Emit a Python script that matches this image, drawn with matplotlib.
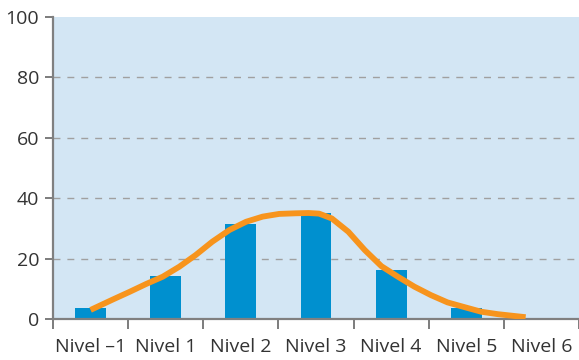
import matplotlib.pyplot as plt
from matplotlib import font_manager

categories = ["Nivel \u20131", "Nivel 1", "Nivel 2", "Nivel 3", "Nivel 4", "Nivel 5", "Nivel 6"]
bar_values = [3.7, 14.2, 31.5, 35.1, 16.2, 3.6, 0.0]

# points (x in category units)
curve_x = [0.0, 0.30, 0.52, 0.74, 0.96, 1.18, 1.40, 1.62, 1.85, 2.07, 2.29, 2.51,
           2.73, 2.90, 3.04, 3.21, 3.43, 3.65, 3.87, 4.09, 4.31, 4.53, 4.75, 4.98,
           5.20, 5.42, 5.64, 5.79]
curve_y = [3.0, 6.5, 9.0, 11.6, 14.0, 17.3, 21.2, 25.6, 29.5, 32.2, 33.9, 34.8,
           35.0, 35.1, 34.9, 33.3, 28.9, 22.8, 17.5, 14.0, 10.7, 7.9, 5.5, 3.9,
           2.4, 1.6, 1.0, 0.6]

y_ticks = [0, 20, 40, 60, 80, 100]

names = {f.name for f in font_manager.fontManager.ttflist}
fam = "Liberation Sans Narrow" if "Liberation Sans Narrow" in names else "Open Sans"
plt.rcParams["font.family"] = [fam, "DejaVu Sans"]

fig = plt.figure(figsize=(5.79, 3.6), dpi=100)
ax = fig.add_axes([53 / 579, 1 - 319 / 360, 1 - 53 / 579, (319 - 17) / 360])
ax.set_facecolor("#d3e6f4")

xs = list(range(len(categories)))
ax.bar(xs, bar_values, width=0.41, color="#0090cf", zorder=2)
ax.plot(curve_x, curve_y, color="#f7941d", linewidth=4.2, solid_capstyle="butt",
        solid_joinstyle="round", zorder=3)

ax.set_xlim(-0.5, 6.46)
ax.set_ylim(0, 100)
ax.set_yticks(y_ticks)
ax.set_xticks(xs)
ax.set_xticklabels(categories)
ax.set_xticks([i - 0.5 for i in range(len(categories) + 1)], minor=True)
ax.tick_params(axis="x", which="major", length=0, pad=14, labelsize=14, labelcolor="#333333")
ax.tick_params(axis="x", which="minor", length=7, width=1.2, color="#666666")
ax.tick_params(axis="y", length=6, width=1.2, color="#666666", labelsize=14, labelcolor="#333333", pad=4)

for y in y_ticks[1:-1]:
    ax.axhline(y, color="#a0a0a0", linewidth=1, linestyle=(0, (5, 5)), zorder=1)

for s in ["top", "right"]:
    ax.spines[s].set_visible(False)
for s in ["left", "bottom"]:
    ax.spines[s].set_color("#808080")
    ax.spines[s].set_linewidth(1.6)

fig.savefig("out.png", dpi=100)
